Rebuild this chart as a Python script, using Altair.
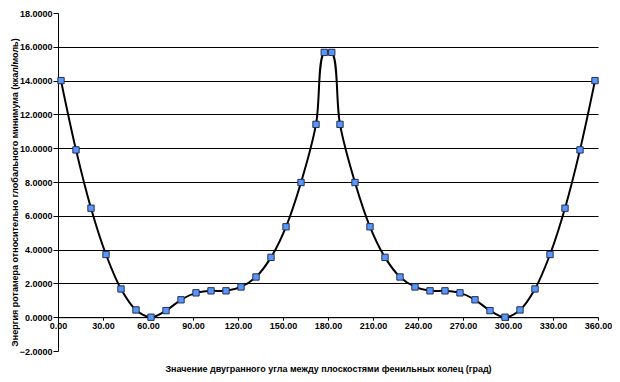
import altair as alt
import pandas as pd

angles = [2, 12, 22, 32, 42, 52, 62, 72, 82, 92, 102, 112, 122, 132, 142, 152, 162, 172,
          177.5, 182.5,
          188, 198, 208, 218, 228, 238, 248, 258, 268, 278, 288, 298, 308, 318, 328, 338, 348, 358]
energies = [14.0, 9.90, 6.45, 3.71, 1.67, 0.43, 0.0, 0.39, 1.03, 1.44, 1.56, 1.56, 1.79, 2.38,
            3.54, 5.35, 7.97, 11.41,
            15.67, 15.67,
            11.41, 7.97, 5.35, 3.54, 2.38, 1.79, 1.56, 1.56, 1.44, 1.03, 0.39, 0.0, 0.43, 1.67,
            3.71, 6.45, 9.90, 14.0]
x_ticks = [0, 30, 60, 90, 120, 150, 180, 210, 240, 270, 300, 330, 360]
y_ticks = [-2, 0, 2, 4, 6, 8, 10, 12, 14, 16, 18]

x_title = "Значение двугранного угла между плоскостями фенильных колец (град)"
y_title = "Энергия ротамера относительно глобального минимума (ккал/моль)"

df = pd.DataFrame({"angle": angles, "energy": energies})

W, H = 540, 338

x_enc = alt.X(
    "angle:Q",
    scale=alt.Scale(domain=[0, 360], nice=False, zero=False),
    axis=alt.Axis(
        values=x_ticks, tickCount=30, format=".2f", title=x_title, offset=-0.1 * H,
        tickSize=3, labelPadding=1, labelFlush=False, labelOverlap=False, grid=False,
        titleY=51.5, titleBaseline="middle", titleAlign="center",
    ),
)
y_enc = alt.Y(
    "energy:Q",
    scale=alt.Scale(domain=[-2, 18], nice=False, zero=False),
    axis=alt.Axis(
        values=y_ticks, tickCount=30, format=".4f", title=y_title,
        tickSize=5, labelPadding=1, labelOverlap=False, grid=True, gridColor="black", gridWidth=1,
        gridOpacity={"condition": {"test": "datum.value <= -2 || datum.value >= 18", "value": 0}, "value": 1},
        titleX=-44, titleY=179, titleBaseline="middle", titleAlign="center", titleAngle=270,
    ),
)

line = alt.Chart(df).mark_line(interpolate="catmull-rom", color="black", strokeWidth=2).encode(x=x_enc, y=y_enc)
pts = alt.Chart(df).mark_square(size=40, fill="#5599FF", stroke="#2b2b4f", strokeWidth=1, opacity=1).encode(
    x="angle:Q", y="energy:Q"
)

chart = (
    alt.layer(line, pts)
    .properties(
        width=W, height=H,
        autosize=alt.AutoSizeParams(type="none"),
        padding={"left": 50, "top": 5, "right": 14, "bottom": 23},
        background="white",
    )
    .configure_view(stroke=None)
    .configure_axis(
        domainColor="black", domainWidth=1, tickColor="black", tickWidth=1,
        labelColor="black", labelFont="Liberation Sans", labelFontWeight="bold", labelFontSize=9,
        titleColor="black", titleFont="Liberation Sans", titleFontWeight="bold", titleFontSize=9,
    )
)

chart.save("out.html", embed_options={"renderer": "svg", "actions": False})
